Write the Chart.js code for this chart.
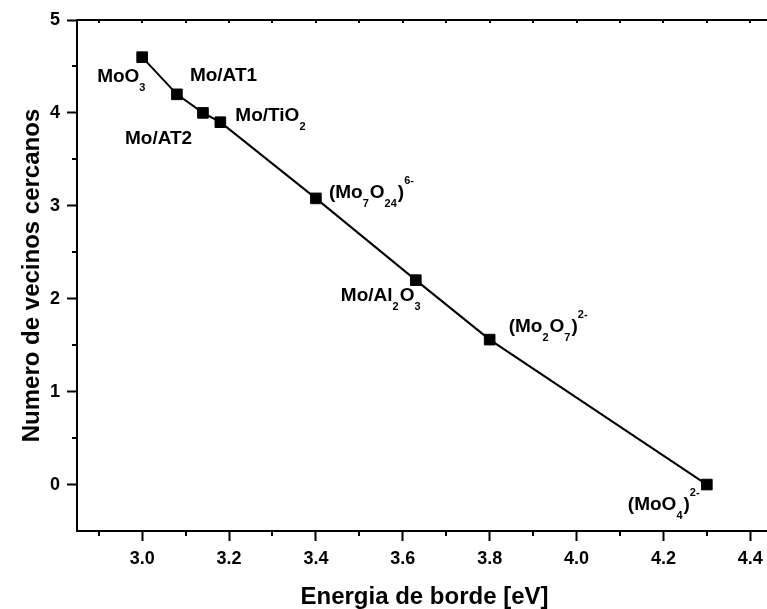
<!DOCTYPE html>
<html>
<head>
<meta charset="utf-8">
<script src="https://cdn.jsdelivr.net/npm/chart.js@4"></script>
<style>
  html, body { margin: 0; padding: 0; background: #fff; overflow: hidden; }
  #wrap { width: 767px; height: 609px; overflow: hidden; }
</style>
</head>
<body>
<div id="wrap"><canvas id="chart" width="790" height="609"></canvas></div>
<script>
// values
const samples = ["MoO_3", "Mo/AT1", "Mo/AT2", "Mo/TiO_2", "(Mo_7O_{24})^{6-}", "Mo/Al_2O_3", "(Mo_2O_7)^{2-}", "(MoO_4)^{2-}"];
const edgeEnergy = [3.00, 3.08, 3.14, 3.18, 3.40, 3.63, 3.80, 4.30];
const neighbours = [4.6, 4.2, 4.0, 3.9, 3.08, 2.2, 1.56, 0];

const xMajorTicks = [3.0, 3.2, 3.4, 3.6, 3.8, 4.0, 4.2, 4.4];
const xMinorTicks = [2.9, 3.1, 3.3, 3.5, 3.7, 3.9, 4.1, 4.3];
const yMajorTicks = [0, 1, 2, 3, 4, 5];
const yMinorTicks = [0.5, 1.5, 2.5, 3.5, 4.5];

const FONT = "'Liberation Sans', Arial, sans-serif";

// where each label sits relative to its point (text left edge, baseline)
const labelOffsets = [[-45, 25], [13, -13], [-78, 31], [15, -1], [13, 0], [-75, 21], [19, -8], [-79, 25]];

// split "Mo_7O_{24}" style strings into normal / sub / sup runs
function parseRich(s) {
  const out = [];
  let buf = "", i = 0;
  while (i < s.length) {
    const c = s[i];
    if (c === "_" || c === "^") {
      if (buf) { out.push({ t: buf, k: "n" }); buf = ""; }
      let t;
      if (s[i + 1] === "{") {
        const j = s.indexOf("}", i);
        t = s.slice(i + 2, j);
        i = j + 1;
      } else {
        t = s[i + 1];
        i += 2;
      }
      out.push({ t: t, k: c === "_" ? "sub" : "sup" });
    } else {
      buf += c;
      i++;
    }
  }
  if (buf) out.push({ t: buf, k: "n" });
  return out;
}

const pointLabels = {
  id: "pointLabels",
  afterDatasetsDraw(chart) {
    const { ctx, scales: { x, y } } = chart;
    ctx.save();
    ctx.fillStyle = "#000";
    ctx.textBaseline = "alphabetic";
    samples.forEach((name, i) => {
      let cx = x.getPixelForValue(edgeEnergy[i]) + labelOffsets[i][0];
      const base = y.getPixelForValue(neighbours[i]) + labelOffsets[i][1];
      parseRich(name).forEach(run => {
        if (run.k === "n") {
          ctx.font = "bold 19px " + FONT;
          ctx.fillText(run.t, cx, base);
        } else {
          ctx.font = "bold 11px " + FONT;
          ctx.fillText(run.t, cx, run.k === "sub" ? base + 9 : base - 14);
        }
        cx += ctx.measureText(run.t).width + (run.k === "n" ? 0 : 1);
      });
    });
    ctx.restore();
  }
};

// minor ticks and the top frame line
const frame = {
  id: "frame",
  afterDraw(chart) {
    const { ctx, scales: { x, y }, chartArea: a } = chart;
    ctx.save();
    ctx.strokeStyle = "#000";
    ctx.lineWidth = 2;
    ctx.beginPath();
    xMinorTicks.forEach(v => {
      const px = Math.round(x.getPixelForValue(v));
      ctx.moveTo(px, a.bottom); ctx.lineTo(px, a.bottom + 5);
    });
    yMinorTicks.forEach(v => {
      const py = Math.round(y.getPixelForValue(v));
      ctx.moveTo(a.left, py); ctx.lineTo(a.left - 5, py);
    });
    ctx.moveTo(a.left - 1, a.top); ctx.lineTo(chart.width, a.top);
    xMajorTicks.concat(xMinorTicks).forEach(v => {
      const px = Math.round(x.getPixelForValue(v));
      ctx.moveTo(px, a.top); ctx.lineTo(px, a.top + 3);
    });
    ctx.stroke();
    ctx.restore();
  }
};

new Chart(document.getElementById("chart"), {
  type: "line",
  data: {
    datasets: [{
      data: edgeEnergy.map((e, i) => ({ x: e, y: neighbours[i] })),
      borderColor: "#000",
      borderWidth: 2,
      tension: 0,
      pointStyle: "rect",
      pointRadius: 7.5,
      pointBorderWidth: 1,
      pointBackgroundColor: "#000",
      pointBorderColor: "#000"
    }]
  },
  options: {
    responsive: false,
    animation: false,
    events: [],
    layout: { padding: { left: 0, right: 18, top: 20, bottom: 0 } },
    plugins: { legend: { display: false }, tooltip: { enabled: false } },
    scales: {
      x: {
        type: "linear",
        min: 2.85,
        max: 4.45,
        afterBuildTicks: s => { s.ticks = xMajorTicks.map(v => ({ value: v })); },
        afterFit: s => { s.height = 78; },
        grid: { drawOnChartArea: false, drawTicks: true, tickLength: 10, tickWidth: 2, tickColor: "#000" },
        border: { display: true, width: 2, color: "#000" },
        ticks: {
          color: "#000",
          font: { family: FONT, size: 18, weight: "bold" },
          padding: 7,
          maxRotation: 0,
          autoSkip: false,
          callback: v => v.toFixed(1)
        },
        title: {
          display: true,
          text: "Energia de borde [eV]",
          color: "#000",
          font: { family: FONT, size: 24, weight: "bold", lineHeight: 1 },
          padding: { top: 0, bottom: 0 }
        }
      },
      y: {
        type: "linear",
        min: -0.5,
        max: 5,
        afterBuildTicks: s => { s.ticks = yMajorTicks.map(v => ({ value: v })); },
        afterFit: s => { s.width = 77; },
        grid: { drawOnChartArea: false, drawTicks: true, tickLength: 10, tickWidth: 2, tickColor: "#000" },
        border: { display: true, width: 2, color: "#000" },
        ticks: {
          color: "#000",
          font: { family: FONT, size: 18, weight: "bold" },
          padding: 7,
          autoSkip: false,
          callback: v => String(v)
        },
        title: {
          display: true,
          text: "Numero de vecinos cercanos",
          color: "#000",
          font: { family: FONT, size: 24, weight: "bold", lineHeight: 1 },
          padding: { top: 20, bottom: 0 }
        }
      }
    }
  },
  plugins: [pointLabels, frame]
});
</script>
</body>
</html>
